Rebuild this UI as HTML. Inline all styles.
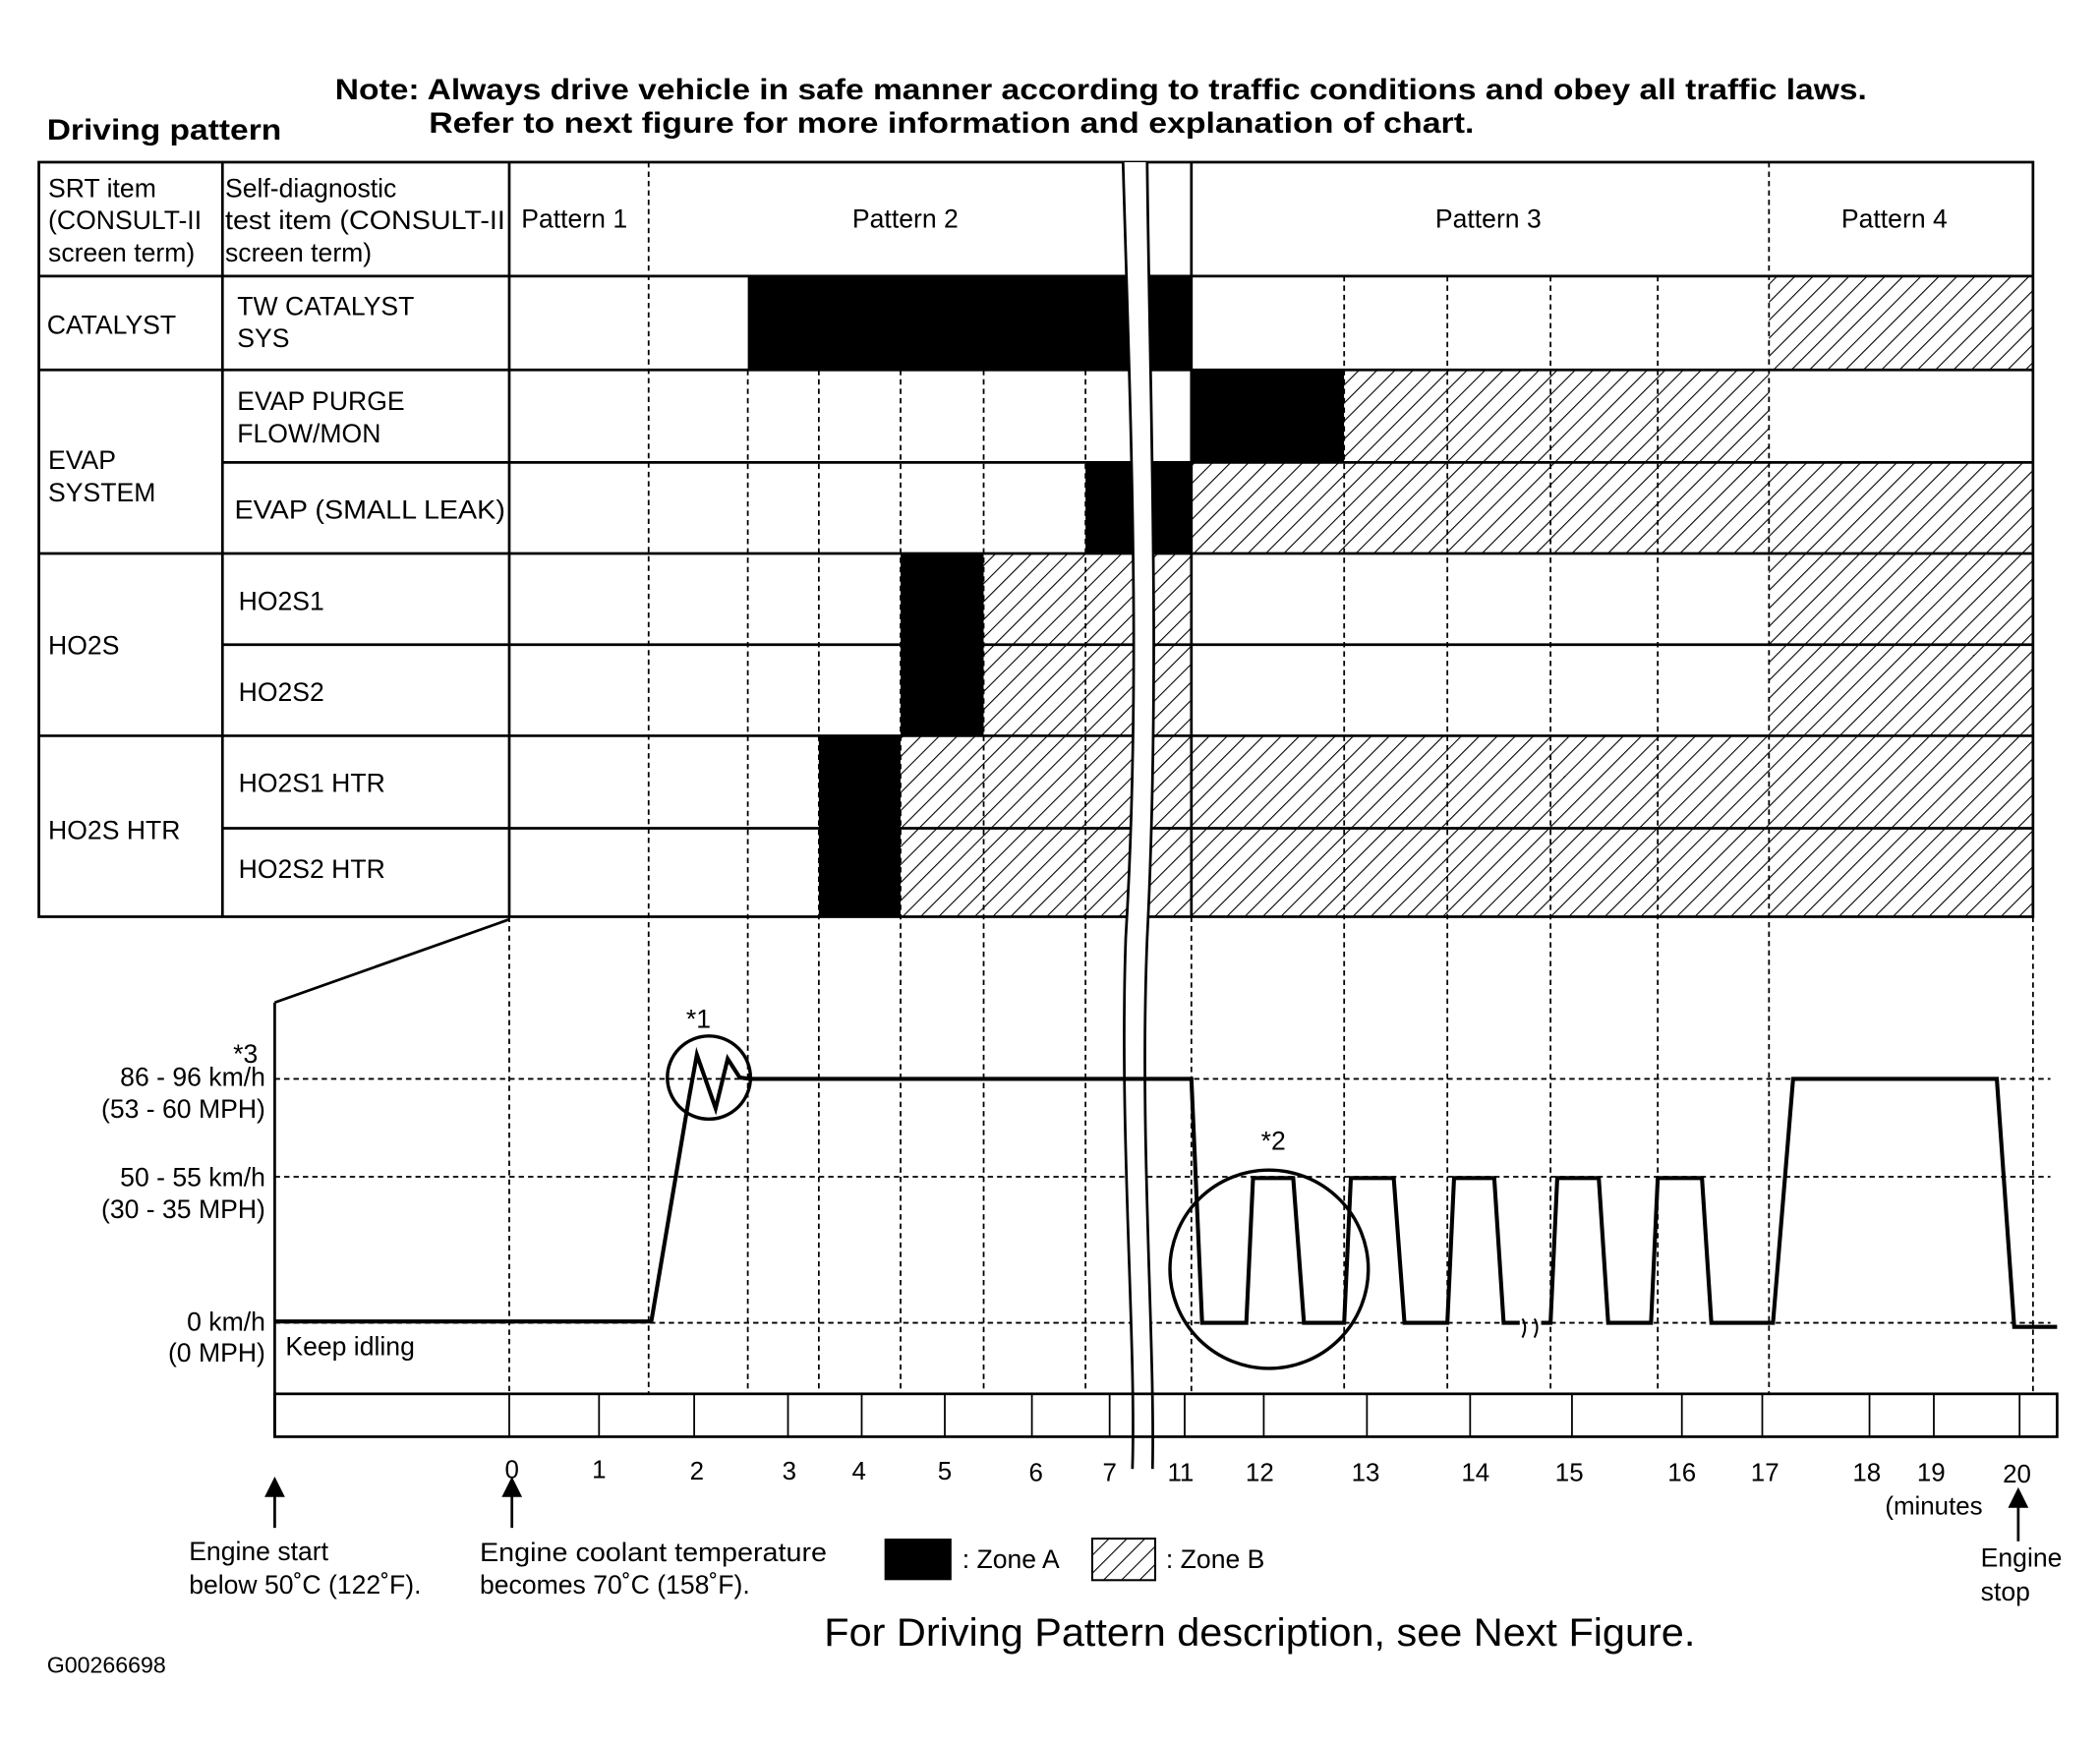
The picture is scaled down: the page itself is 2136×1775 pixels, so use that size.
<!DOCTYPE html>
<html><head><meta charset="utf-8"><style>
html,body{margin:0;padding:0;background:#fff}
svg{display:block}
text{font-family:"Liberation Sans",Arial,sans-serif;fill:#000}
</style></head><body>
<svg width="2136" height="1775" viewBox="0 0 1567 1302" preserveAspectRatio="none" xmlns="http://www.w3.org/2000/svg">
<defs>
<pattern id="h" patternUnits="userSpaceOnUse" width="9.5" height="9.5" patternTransform="rotate(45)">
<rect width="9.5" height="9.5" fill="#fff"/><line x1="0" y1="0" x2="0" y2="9.5" stroke="#000" stroke-width="1.6"/>
</pattern>
</defs>
<rect width="1567" height="1302" fill="#fff"/>
<text x="250" y="74" font-size="22" font-weight="bold" textLength="1143" lengthAdjust="spacingAndGlyphs">Note: Always drive vehicle in safe manner according to traffic conditions and obey all traffic laws.</text>
<text x="320" y="99" font-size="22" font-weight="bold" textLength="780" lengthAdjust="spacingAndGlyphs">Refer to next figure for more information and explanation of chart.</text>
<text x="35" y="104" font-size="22" font-weight="bold" textLength="175" lengthAdjust="spacingAndGlyphs">Driving pattern</text>

<g>
<rect x="558" y="206" width="331" height="70" fill="#000"/>
<rect x="1320" y="206" width="197" height="70" fill="url(#h)"/>
<rect x="889" y="276" width="114" height="69" fill="#000"/>
<rect x="1003" y="276" width="317" height="69" fill="url(#h)"/>
<rect x="810" y="345" width="79" height="68" fill="#000"/>
<rect x="889" y="345" width="628" height="68" fill="url(#h)"/>
<rect x="672" y="413" width="62" height="136" fill="#000"/>
<rect x="734" y="413" width="155" height="136" fill="url(#h)"/>
<rect x="1320" y="413" width="197" height="136" fill="url(#h)"/>
<rect x="611" y="549" width="61" height="135" fill="#000"/>
<rect x="672" y="549" width="845" height="135" fill="url(#h)"/>
</g>
<g stroke="#000" stroke-width="1.3" stroke-dasharray="4,3">
<line x1="484" y1="121" x2="484" y2="1040"/>
<line x1="380" y1="684" x2="380" y2="1040"/>
<line x1="558" y1="276" x2="558" y2="1040"/>
<line x1="611" y1="276" x2="611" y2="1040"/>
<line x1="672" y1="276" x2="672" y2="1040"/>
<line x1="734" y1="276" x2="734" y2="1040"/>
<line x1="810" y1="276" x2="810" y2="1040"/>
<line x1="889" y1="684" x2="889" y2="1040"/>
<line x1="1003" y1="206" x2="1003" y2="1040"/>
<line x1="1080" y1="206" x2="1080" y2="1040"/>
<line x1="1157" y1="206" x2="1157" y2="1040"/>
<line x1="1237" y1="206" x2="1237" y2="1040"/>
<line x1="1320" y1="121" x2="1320" y2="1040"/>
<line x1="1517" y1="684" x2="1517" y2="1040"/>
<line x1="205" y1="805" x2="1530" y2="805"/>
<line x1="205" y1="878" x2="1530" y2="878"/>
<line x1="205" y1="987" x2="1530" y2="987"/>
</g>
<g stroke="#000" stroke-width="2" fill="none">
<rect x="29" y="121" width="1488" height="563"/>
<line x1="29" y1="206" x2="1517" y2="206"/>
<line x1="29" y1="276" x2="1517" y2="276"/>
<line x1="166" y1="345" x2="1517" y2="345"/>
<line x1="29" y1="413" x2="1517" y2="413"/>
<line x1="166" y1="481" x2="1517" y2="481"/>
<line x1="29" y1="549" x2="1517" y2="549"/>
<line x1="166" y1="618" x2="1517" y2="618"/>
<line x1="166" y1="121" x2="166" y2="684"/>
<line x1="380" y1="121" x2="380" y2="684"/>
<line x1="889" y1="121" x2="889" y2="684"/>
</g>
<g font-size="19.5">
<text x="36" y="147">SRT item</text><text x="36" y="171">(CONSULT-II</text><text x="36" y="195">screen term)</text>
<text x="168" y="147">Self-diagnostic</text><text x="168" y="171" textLength="209" lengthAdjust="spacingAndGlyphs">test item (CONSULT-II</text><text x="168" y="195">screen term)</text>
<text x="389" y="170">Pattern 1</text><text x="636" y="170">Pattern 2</text><text x="1071" y="170">Pattern 3</text><text x="1374" y="170">Pattern 4</text>
<text x="35" y="249">CATALYST</text><text x="177" y="235">TW CATALYST</text><text x="177" y="259">SYS</text>
<text x="36" y="350">EVAP</text><text x="36" y="374">SYSTEM</text>
<text x="177" y="306">EVAP PURGE</text><text x="177" y="330">FLOW/MON</text>
<text x="175" y="387" textLength="202" lengthAdjust="spacingAndGlyphs">EVAP (SMALL LEAK)</text>
<text x="36" y="488">HO2S</text><text x="178" y="455">HO2S1</text><text x="178" y="523">HO2S2</text>
<text x="36" y="626">HO2S HTR</text><text x="178" y="591">HO2S1 HTR</text><text x="178" y="655">HO2S2 HTR</text>
</g>
<path d="M838,121 C843,300 852,500 840,700 C835,850 848,1000 845,1096 L860,1096 C862,1000 850,850 856,700 C866,500 858,300 856,121 Z" fill="#fff" stroke="none"/>
<path d="M838,121 C843,300 852,500 840,700 C835,850 848,1000 845,1096" fill="none" stroke="#000" stroke-width="2"/>
<path d="M856,121 C858,300 866,500 856,700 C850,850 862,1000 860,1096" fill="none" stroke="#000" stroke-width="2"/>
<g stroke="#000" stroke-width="2" fill="none">
<line x1="205" y1="748" x2="205" y2="1072"/>
<line x1="205" y1="748" x2="380" y2="686"/>
<rect x="205" y="1040" width="1330" height="32"/>
<g stroke-width="1.3">
<line x1="380" y1="1040" x2="380" y2="1072"/><line x1="447" y1="1040" x2="447" y2="1072"/><line x1="518" y1="1040" x2="518" y2="1072"/><line x1="588" y1="1040" x2="588" y2="1072"/><line x1="643" y1="1040" x2="643" y2="1072"/><line x1="705" y1="1040" x2="705" y2="1072"/><line x1="770" y1="1040" x2="770" y2="1072"/><line x1="828" y1="1040" x2="828" y2="1072"/><line x1="884" y1="1040" x2="884" y2="1072"/><line x1="943" y1="1040" x2="943" y2="1072"/><line x1="1020" y1="1040" x2="1020" y2="1072"/><line x1="1097" y1="1040" x2="1097" y2="1072"/><line x1="1173" y1="1040" x2="1173" y2="1072"/><line x1="1255" y1="1040" x2="1255" y2="1072"/><line x1="1315" y1="1040" x2="1315" y2="1072"/><line x1="1395" y1="1040" x2="1395" y2="1072"/><line x1="1443" y1="1040" x2="1443" y2="1072"/><line x1="1507" y1="1040" x2="1507" y2="1072"/>
</g>
<polyline stroke-width="3" points="205,986 486,986 514,820"/>
<polyline stroke-width="3" points="514,820 520,787 534,827 543,790 552,804 560,805 889,805 897,987 930,987 935,879 965,879 973,987 1003,987 1008,879 1040,879 1048,987 1080,987 1085,879 1115,879 1122,987 1134,987"/>
<polyline stroke-width="3" points="1150,987 1157,987 1162,879 1193,879 1200,987 1232,987 1237,879 1270,879 1277,987 1323,987 1338,805 1490,805 1503,990 1535,990"/>
<path d="M1136,998 q4,-8 0,-14 M1145,998 q4,-8 0,-14" stroke-width="1.5"/>
<circle cx="529" cy="804" r="31" stroke-width="2.5"/>
<circle cx="947" cy="947" r="74" stroke-width="2.5"/>
</g>
<g font-size="19.5">
<text x="512" y="767">*1</text><text x="941" y="858">*2</text><text x="174" y="793">*3</text>
<text x="198" y="810" text-anchor="end">86 - 96 km/h</text><text x="198" y="834" text-anchor="end">(53 - 60 MPH)</text>
<text x="198" y="885" text-anchor="end">50 - 55 km/h</text><text x="198" y="909" text-anchor="end">(30 - 35 MPH)</text>
<text x="198" y="993" text-anchor="end">0 km/h</text><text x="198" y="1016" text-anchor="end">(0 MPH)</text>
<text x="213" y="1011">Keep idling</text>
</g>
<g font-size="19" text-anchor="middle">
<text x="382" y="1103">0</text><text x="447" y="1103">1</text><text x="520" y="1104">2</text><text x="589" y="1104">3</text><text x="641" y="1104">4</text><text x="705" y="1104">5</text><text x="773" y="1105">6</text><text x="828" y="1105">7</text><text x="881" y="1105">11</text><text x="940" y="1105">12</text><text x="1019" y="1105">13</text><text x="1101" y="1105">14</text><text x="1171" y="1105">15</text><text x="1255" y="1105">16</text><text x="1317" y="1105">17</text><text x="1393" y="1105">18</text><text x="1441" y="1105">19</text><text x="1505" y="1106">20</text>
<text x="1443" y="1130">(minutes</text>
</g>
<g stroke="#000" stroke-width="2" fill="#000">
<line x1="205" y1="1140" x2="205" y2="1112"/><path d="M199,1116 L205,1104 L211,1116 Z"/>
<line x1="382" y1="1140" x2="382" y2="1112"/><path d="M376,1116 L382,1104 L388,1116 Z"/>
<line x1="1506" y1="1150" x2="1506" y2="1120"/><path d="M1500,1124 L1506,1112 L1512,1124 Z"/>
</g>
<g font-size="19.5">
<text x="141" y="1164">Engine start</text><text x="141" y="1189">below 50˚C (122˚F).</text>
<text x="358" y="1165" textLength="259" lengthAdjust="spacingAndGlyphs">Engine coolant temperature</text><text x="358" y="1189">becomes 70˚C (158˚F).</text>
<rect x="660" y="1148" width="50" height="31" fill="#000"/><text x="718" y="1170">: Zone A</text>
<rect x="815" y="1148" width="47" height="31" fill="url(#h)" stroke="#000" stroke-width="1.5"/><text x="870" y="1170">: Zone B</text>
<text x="1478" y="1169">Engine</text><text x="1478" y="1194">stop</text>
<text x="35" y="1248" font-size="17">G00266698</text>
</g>
<text x="615" y="1228" font-size="29" textLength="650" lengthAdjust="spacingAndGlyphs">For Driving Pattern description, see Next Figure.</text>
</svg>
</body></html>
